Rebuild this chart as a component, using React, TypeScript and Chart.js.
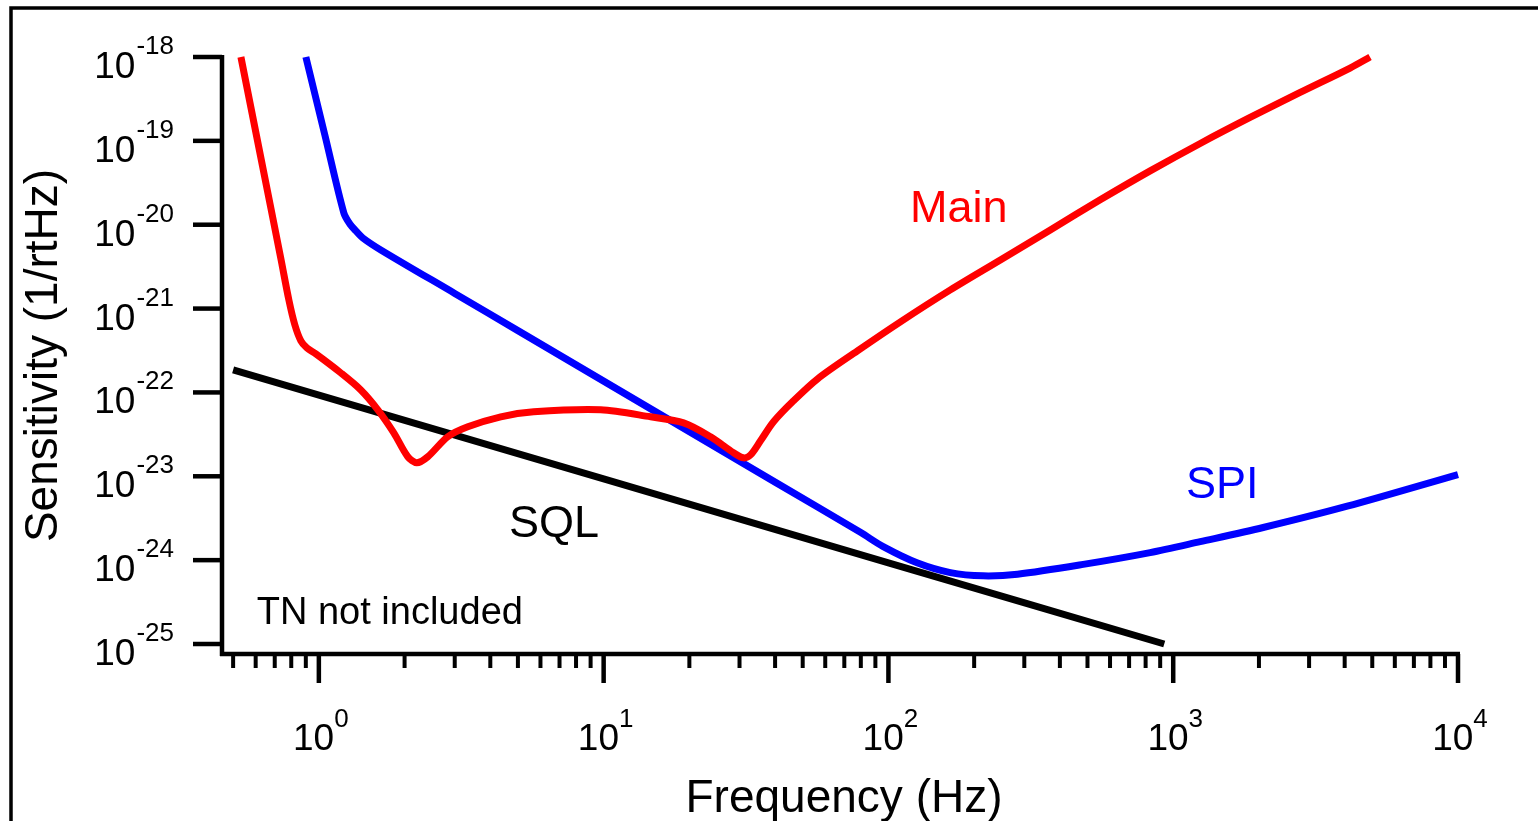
import React, { useEffect, useRef } from "react";
import { Chart, registerables } from "chart.js";

Chart.register(...registerables);

// ---- Data ----
const MAIN_FREQ = [
  0.5325, 0.626, 0.7358, 0.7846, 0.8236, 0.8647, 0.9077, 0.9761, 1.194, 1.404, 1.611, 1.833,
  2.053, 2.207, 2.413, 2.836, 3.334, 4.351, 5.68, 9.76, 14.62, 19.09, 23.74, 28.58, 30.98, 32.8,
  35.55, 39.5, 46.42, 56.36, 77.84, 110.2, 165, 247.2, 370.2, 554.2, 830, 1244, 1862, 2791, 4178,
  4910,
];
const MAIN_SENS = [
  1.0e-18, 6.25e-20, 3.91e-21, 1.27e-21, 6.39e-22, 4.12e-22, 3.4e-22, 2.88e-22, 1.71e-22,
  1.07e-22, 6.21e-23, 3.3e-23, 1.71e-23, 1.45e-23, 1.71e-23, 2.96e-23, 3.89e-23, 5.12e-23,
  5.87e-23, 6.21e-23, 5.12e-23, 4.34e-23, 2.96e-23, 1.91e-23, 1.66e-23, 1.8e-23, 2.65e-23,
  4.47e-23, 7.94e-23, 1.45e-22, 3.13e-22, 6.95e-22, 1.67e-21, 3.8e-21, 8.67e-21, 1.98e-20,
  4.38e-20, 9.31e-20, 1.9e-19, 3.78e-19, 7.39e-19, 1.0e-18,
];

const SPI_FREQ = [
  0.9003, 1.0497, 1.224, 1.285, 1.349, 1.427, 1.65, 3, 5, 10, 20, 40, 80, 95.9, 126, 165, 215,
  284, 483, 830, 1244, 2070, 4083, 10000,
];
const SPI_SENS = [
  1.0e-18, 1.175e-19, 1.38e-20, 1.02e-20, 8.44e-21, 6.96e-21, 5.01e-21, 1.516e-21, 5.46e-22,
  1.364e-22, 3.41e-23, 8.52e-24, 2.13e-24, 1.45e-24, 9.3e-25, 7.1e-25, 6.5e-25, 6.8e-25, 8.9e-25,
  1.23e-24, 1.66e-24, 2.45e-24, 4.4e-24, 1.05e-23,
];

const SQL_FREQ = [0.5, 10, 100, 930];
const SQL_SENS = [1.86e-22, 9.3e-24, 9.3e-25, 1.0e-25];

const X_TICK_EXPONENTS = [0, 1, 2, 3, 4];
const Y_TICK_EXPONENTS = [-18, -19, -20, -21, -22, -23, -24, -25];
const X_MINOR_MULTIPLIERS = [2, 3, 4, 5, 6, 7, 8, 9];

const X_TITLE = "Frequency (Hz)";
const Y_TITLE = "Sensitivity (1/rtHz)";

const ANNOTATIONS = [
  { text: "Main", freq: 176.7, sens: 1.08e-20, color: "#ff0000", size: 45 },
  { text: "SPI", freq: 1486, sens: 5.55e-24, color: "#0000ff", size: 45 },
  { text: "SQL", freq: 6.7, sens: 1.9e-24, color: "#000000", size: 45 },
  { text: "TN not included", freq: 1.775, sens: 1.74e-25, color: "#000000", size: 38 },
];

const X_MIN = 0.457;
const X_MAX = 1e4;
const Y_MIN = 7.6e-26;
const Y_MAX = 1e-18;

const LINE_WIDTH = 7;
const FONT_FAMILY = '"Liberation Sans", Arial, Helvetica, sans-serif';

function toPoints(xs: number[], ys: number[]) {
  return xs.map((x, i) => ({ x, y: ys[i] }));
}

const igorAxes = {
  id: "igorAxes",
  beforeDatasetsDraw(chart: any) {
    const { ctx, chartArea } = chart;
    const xs = chart.scales.x;
    const ys = chart.scales.y;
    const { left, right, top, bottom } = chartArea;
    ctx.save();
    ctx.strokeStyle = "#000";
    ctx.fillStyle = "#000";
    ctx.lineCap = "butt";

    // outer frame (left and top edges visible)
    ctx.lineWidth = 3.5;
    ctx.beginPath();
    ctx.moveTo(11, chart.height);
    ctx.lineTo(11, 8);
    ctx.lineTo(chart.width, 8);
    ctx.stroke();

    // axis lines
    ctx.lineWidth = 4.5;
    ctx.beginPath();
    ctx.moveTo(left, top - 2);
    ctx.lineTo(left, bottom + 2);
    ctx.stroke();
    ctx.beginPath();
    ctx.moveTo(left - 2, bottom);
    ctx.lineTo(right + 2, bottom);
    ctx.stroke();

    // y ticks + labels
    Y_TICK_EXPONENTS.forEach((e) => {
      const y = ys.getPixelForValue(Math.pow(10, e));
      ctx.lineWidth = 4.5;
      ctx.beginPath();
      ctx.moveTo(left - 29, y);
      ctx.lineTo(left, y);
      ctx.stroke();
      const expStr = String(e);
      ctx.textAlign = "right";
      ctx.textBaseline = "alphabetic";
      ctx.font = `26px ${FONT_FAMILY}`;
      const lx = left - 48;
      ctx.fillText(expStr, lx, y - 3);
      const w = ctx.measureText(expStr).width;
      ctx.font = `37px ${FONT_FAMILY}`;
      ctx.fillText("10", lx - w - 1, y + 21);
    });

    // x minor ticks
    ctx.lineWidth = 4;
    const minors: number[] = [];
    for (let d = -1; d <= 3; d++) {
      X_MINOR_MULTIPLIERS.forEach((m) => {
        const v = m * Math.pow(10, d);
        if (v >= X_MIN && v <= X_MAX) minors.push(v);
      });
    }
    minors.forEach((v) => {
      const x = xs.getPixelForValue(v);
      ctx.beginPath();
      ctx.moveTo(x, bottom);
      ctx.lineTo(x, bottom + 14);
      ctx.stroke();
    });

    // x major ticks + labels
    X_TICK_EXPONENTS.forEach((e) => {
      const x = xs.getPixelForValue(Math.pow(10, e));
      ctx.lineWidth = 4.5;
      ctx.beginPath();
      ctx.moveTo(x, bottom);
      ctx.lineTo(x, bottom + 29);
      ctx.stroke();
      const expStr = String(e);
      ctx.textAlign = "left";
      ctx.font = `37px ${FONT_FAMILY}`;
      const w1 = ctx.measureText("10").width;
      ctx.font = `26px ${FONT_FAMILY}`;
      const w2 = ctx.measureText(expStr).width;
      const start = x + 2 - (w1 + w2) / 2;
      ctx.font = `37px ${FONT_FAMILY}`;
      ctx.fillText("10", start, bottom + 96);
      ctx.font = `26px ${FONT_FAMILY}`;
      ctx.fillText(expStr, start + w1, bottom + 73);
    });

    // axis titles
    ctx.font = `46px ${FONT_FAMILY}`;
    ctx.textAlign = "center";
    ctx.fillText(X_TITLE, (left + right) / 2 + 4, bottom + 158);
    ctx.save();
    ctx.translate(57, (top + bottom) / 2);
    ctx.rotate(-Math.PI / 2);
    ctx.fillText(Y_TITLE, 0, 0);
    ctx.restore();

    ctx.restore();
  },
  afterDatasetsDraw(chart: any) {
    const { ctx } = chart;
    const xs = chart.scales.x;
    const ys = chart.scales.y;
    ctx.save();
    ctx.textAlign = "center";
    ctx.textBaseline = "alphabetic";
    ANNOTATIONS.forEach((a) => {
      ctx.font = `${a.size}px ${FONT_FAMILY}`;
      ctx.fillStyle = a.color;
      ctx.fillText(a.text, xs.getPixelForValue(a.freq), ys.getPixelForValue(a.sens));
    });
    ctx.restore();
  },
};

export default function App() {
  const canvasRef = useRef<HTMLCanvasElement | null>(null);

  useEffect(() => {
    const canvas = canvasRef.current;
    if (!canvas) return;
    const lineDs = (label: string, data: any[], color: string) => ({
      label,
      data,
      borderColor: color,
      backgroundColor: color,
      borderWidth: LINE_WIDTH,
      borderJoinStyle: "round" as const,
      pointRadius: 0,
      pointHoverRadius: 0,
      fill: false,
      tension: 0.3,
      clip: false as any,
    });
    const chart = new Chart(canvas, {
      type: "line",
      data: {
        datasets: [
          lineDs("Main", toPoints(MAIN_FREQ, MAIN_SENS), "#ff0000"),
          lineDs("SPI", toPoints(SPI_FREQ, SPI_SENS), "#0000ff"),
          lineDs("SQL", toPoints(SQL_FREQ, SQL_SENS), "#000000"),
        ],
      },
      options: {
        responsive: false,
        animation: false,
        devicePixelRatio: 1,
        events: [],
        layout: { padding: { left: 222, top: 57, right: 80, bottom: 167 } },
        elements: { line: { borderWidth: LINE_WIDTH }, point: { radius: 0 } },
        plugins: { legend: { display: false }, tooltip: { enabled: false } },
        scales: {
          x: { type: "logarithmic", min: X_MIN, max: X_MAX, display: false },
          y: { type: "logarithmic", min: Y_MIN, max: Y_MAX, display: false },
        },
      },
      plugins: [igorAxes],
    });
    return () => chart.destroy();
  }, []);

  return (
    <div
      style={{
        position: "fixed",
        left: 0,
        top: 0,
        width: 1538,
        height: 821,
        background: "#ffffff",
        overflow: "hidden",
      }}
    >
      <canvas ref={canvasRef} width={1538} height={821} style={{ display: "block" }} />
    </div>
  );
}
